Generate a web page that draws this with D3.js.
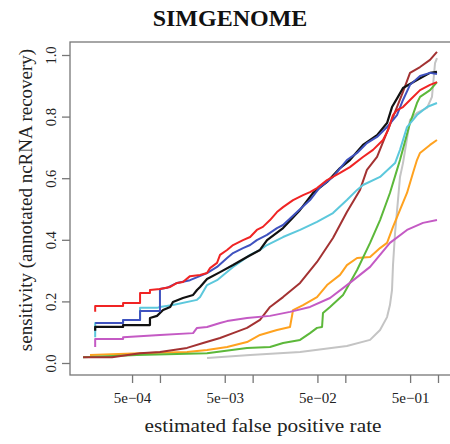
<!DOCTYPE html>
<html>
<head>
<meta charset="utf-8">
<script src="https://cdnjs.cloudflare.com/ajax/libs/d3/7.8.5/d3.min.js"></script>
<style>
    body { margin: 0; background: #fff; }
    text { font-family: "Liberation Serif", "Times New Roman", serif; }
</style>
</head>
<body>
<div id="chart"></div>
<script>

// sensitivity vs estimated false positive rate, one array per method ([fpr, sensitivity])

const redCurve = [
    [2.0e-4, 0.166], [2.0e-4, 0.185], [4.0e-4, 0.185], [4.0e-4, 0.195], [6.1e-4, 0.195], [6.1e-4, 0.227],
    [7.8e-4, 0.227], [7.8e-4, 0.237], [1.0e-3, 0.240], [1.29e-3, 0.247], [1.53e-3, 0.260], [1.77e-3, 0.263],
    [2.11e-3, 0.282], [2.71e-3, 0.286], [3.22e-3, 0.292], [3.47e-3, 0.308], [4.13e-3, 0.325], [4.45e-3, 0.351],
    [5.30e-3, 0.367], [6.15e-3, 0.383], [7.87e-3, 0.399], [9.4e-3, 0.409], [0.0111, 0.432], [0.0129, 0.442],
    [0.0154, 0.464], [0.0183, 0.490], [0.0213, 0.506], [0.0273, 0.529], [0.035, 0.545], [0.0416, 0.555],
    [0.0495, 0.568], [0.0635, 0.594], [0.0877, 0.617], [0.112, 0.636], [0.155, 0.669], [0.199, 0.692],
    [0.255, 0.724], [0.289, 0.756], [0.327, 0.805], [0.361, 0.821], [0.419, 0.831], [0.499, 0.854],
    [0.640, 0.886], [0.820, 0.903], [0.975, 0.912]
];

const blueCurve = [
    [2.0e-4, 0.130], [4.0e-4, 0.130], [4.0e-4, 0.140], [6.1e-4, 0.140], [6.1e-4, 0.169], [1.0e-3, 0.169],
    [1.0e-3, 0.240], [1.19e-3, 0.244], [1.53e-3, 0.260], [2.11e-3, 0.269], [3.22e-3, 0.292], [4.13e-3, 0.312],
    [5.30e-3, 0.341], [6.15e-3, 0.357], [7.87e-3, 0.373], [9.4e-3, 0.383], [0.0111, 0.399], [0.0143, 0.416],
    [0.0183, 0.438], [0.0213, 0.448], [0.0301, 0.490], [0.0416, 0.529], [0.0533, 0.571], [0.0736, 0.604],
    [0.104, 0.659], [0.134, 0.682], [0.171, 0.714], [0.220, 0.734], [0.282, 0.766], [0.361, 0.805],
    [0.419, 0.854], [0.499, 0.903], [0.640, 0.932], [0.820, 0.942], [0.975, 0.938]
];

const blackCurve = [
    [2.0e-4, 0.105], [2.0e-4, 0.117], [4.0e-4, 0.117], [4.0e-4, 0.123], [7.8e-4, 0.123], [7.8e-4, 0.146],
    [9.3e-4, 0.153], [1.08e-3, 0.172], [1.29e-3, 0.182], [1.38e-3, 0.198], [1.77e-3, 0.211], [2.28e-3, 0.221],
    [2.51e-3, 0.237], [2.71e-3, 0.247], [3.22e-3, 0.273], [4.45e-3, 0.295], [6.15e-3, 0.318], [8.7e-3, 0.344],
    [0.0120, 0.367], [0.0143, 0.399], [0.0213, 0.438], [0.0325, 0.497], [0.0449, 0.552], [0.0635, 0.588],
    [0.0877, 0.633], [0.112, 0.659], [0.155, 0.708], [0.220, 0.740], [0.282, 0.779], [0.319, 0.831],
    [0.370, 0.864], [0.419, 0.893], [0.593, 0.919], [0.820, 0.942], [0.975, 0.945]
];

const cyanCurve = [
    [2.0e-4, 0.084], [2.0e-4, 0.130], [4.0e-4, 0.130], [4.0e-4, 0.140], [6.1e-4, 0.140], [6.1e-4, 0.179],
    [9.3e-4, 0.179], [1.0e-3, 0.182], [1.38e-3, 0.188], [2.51e-3, 0.205], [2.71e-3, 0.214], [3.22e-3, 0.253],
    [4.13e-3, 0.269], [6.15e-3, 0.312], [9.4e-3, 0.351], [0.0120, 0.367], [0.0143, 0.383], [0.0213, 0.409],
    [0.0325, 0.432], [0.0495, 0.458], [0.0736, 0.487], [0.104, 0.529], [0.134, 0.562], [0.155, 0.578],
    [0.237, 0.604], [0.344, 0.649], [0.389, 0.692], [0.463, 0.766], [0.593, 0.805], [0.761, 0.831],
    [0.975, 0.844]
];

const magentaCurve = [
    [2.0e-4, 0.052], [2.0e-4, 0.078], [4.0e-4, 0.078], [4.0e-4, 0.084], [1.0e-3, 0.091], [2.28e-3, 0.097],
    [2.51e-3, 0.114], [3.22e-3, 0.117], [4.45e-3, 0.130], [5.30e-3, 0.136], [8.7e-3, 0.146], [0.0154, 0.153],
    [0.0253, 0.166], [0.0416, 0.182], [0.0684, 0.211], [0.112, 0.260], [0.185, 0.312], [0.303, 0.390],
    [0.463, 0.432], [0.689, 0.455], [0.975, 0.464]
];

const brownCurve = [
    [1.48e-4, 0.019], [3.04e-4, 0.019], [6.1e-4, 0.032], [1.0e-3, 0.036], [1.96e-3, 0.049], [2.92e-3, 0.065],
    [4.45e-3, 0.081], [6.15e-3, 0.097], [8.7e-3, 0.114], [0.0120, 0.140], [0.0154, 0.182], [0.0213, 0.214],
    [0.0325, 0.260], [0.0495, 0.328], [0.0736, 0.406], [0.104, 0.490], [0.144, 0.562], [0.171, 0.627],
    [0.220, 0.669], [0.303, 0.773], [0.419, 0.880], [0.499, 0.942], [0.640, 0.961], [0.820, 0.984],
    [0.975, 1.010]
];

const orangeCurve = [
    [1.76e-4, 0.026], [6.1e-4, 0.032], [1.96e-3, 0.036], [3.22e-3, 0.042], [5.30e-3, 0.052], [8.7e-3, 0.068],
    [0.0120, 0.091], [0.0183, 0.107], [0.0253, 0.117], [0.0273, 0.172], [0.0350, 0.188], [0.0495, 0.214],
    [0.0635, 0.253], [0.0877, 0.286], [0.104, 0.318], [0.134, 0.341], [0.185, 0.344], [0.237, 0.373],
    [0.282, 0.390], [0.327, 0.442], [0.389, 0.497], [0.463, 0.552], [0.537, 0.617], [0.593, 0.659],
    [0.640, 0.682], [0.820, 0.708], [0.975, 0.724]
];

const greenCurve = [
    [1.48e-4, 0.019], [5.66e-4, 0.026], [3.22e-3, 0.032], [8.7e-3, 0.049], [0.0154, 0.052], [0.0213, 0.065],
    [0.0325, 0.075], [0.0416, 0.097], [0.0495, 0.114], [0.0561, 0.117], [0.0574, 0.162], [0.0684, 0.182],
    [0.0945, 0.221], [0.134, 0.302], [0.185, 0.390], [0.237, 0.464], [0.303, 0.552], [0.361, 0.627],
    [0.389, 0.659], [0.499, 0.779], [0.593, 0.844], [0.640, 0.864], [0.820, 0.886], [0.975, 0.912]
];

const grayCurve = [
    [3.22e-3, 0.016], [9.4e-3, 0.026], [0.0325, 0.036], [0.104, 0.055], [0.185, 0.075], [0.237, 0.107],
    [0.282, 0.149], [0.303, 0.188], [0.319, 0.237], [0.327, 0.318], [0.344, 0.422], [0.370, 0.529],
    [0.389, 0.604], [0.419, 0.649], [0.499, 0.789], [0.593, 0.812], [0.761, 0.828], [0.861, 0.864],
    [0.929, 0.974], [0.975, 0.990]
];

const xTickValues = [5e-4, 1e-3, 5e-3, 1e-2, 5e-2, 1e-1, 5e-1, 1];
const xTickLabels = ['5e\u221204', '', '5e\u221203', '', '5e\u221202', '', '5e\u221201', ''];
const yTickValues = [0, 0.2, 0.4, 0.6, 0.8, 1.0];
const yTickLabels = ['0.0', '0.2', '0.4', '0.6', '0.8', '1.0'];


class RocChart {

    constructor(parentElement, series) {
        this.parentElement = parentElement;
        this.series = series;

        this.initVis();
    }

    initVis() {
        let vis = this;

        vis.margin = {top: 42, right: -2, bottom: 69, left: 70};
        vis.width = 450 - vis.margin.left - vis.margin.right;
        vis.height = 444 - vis.margin.top - vis.margin.bottom;

        vis.root = d3.select('#' + vis.parentElement).append('svg')
            .attr('width', 450)
            .attr('height', 444)
            .style('display', 'block');

        vis.svg = vis.root.append('g')
            .attr('transform', `translate(${vis.margin.left}, ${vis.margin.top})`);

        // log x, R style 4% padding round the data range
        vis.xScale = d3.scaleLog()
            .domain([1.07e-4, 1.416])
            .range([0, vis.width]);

        vis.yScale = d3.scaleLinear()
            .domain([0, 1])
            .range([321, 13]);

        vis.line = d3.line()
            .x(d => vis.xScale(d[0]))
            .y(d => vis.yScale(d[1]));

        // title and axis titles
        vis.root.append('text')
            .attr('x', 230)
            .attr('y', 26)
            .attr('text-anchor', 'middle')
            .style('font-size', '24px')
            .style('font-weight', 700)
            .style('fill', '#111')
            .text('SIMGENOME');

        vis.root.append('text')
            .attr('x', 263)
            .attr('y', 432)
            .attr('text-anchor', 'middle')
            .attr('textLength', 237)
            .attr('lengthAdjust', 'spacingAndGlyphs')
            .style('font-size', '19px')
            .style('fill', '#222')
            .text('estimated false positive rate');

        vis.root.append('text')
            .attr('transform', 'translate(32, 200) rotate(-90)')
            .attr('text-anchor', 'middle')
            .style('font-size', '19px')
            .style('fill', '#222')
            .text('sensitivity (annotated ncRNA recovery)');

        vis.updateVis();
    }

    updateVis() {
        let vis = this;

        // curves
        vis.svg.selectAll('.curve')
            .data(vis.series)
            .enter()
            .append('path')
            .attr('class', 'curve')
            .attr('d', d => vis.line(d.values))
            .attr('fill', 'none')
            .attr('stroke', d => d.color)
            .attr('stroke-width', d => d.width)
            .attr('stroke-linejoin', 'round');

        // axes
        let xAxisGroup = vis.svg.append('g')
            .attr('transform', `translate(0, ${vis.height})`)
            .call(d3.axisBottom(vis.xScale)
                .tickValues(xTickValues)
                .tickFormat((d, i) => xTickLabels[i])
                .tickSizeOuter(0)
                .tickSize(8));

        xAxisGroup.select('.domain').remove();
        xAxisGroup.selectAll('line').attr('stroke', '#777').attr('stroke-width', 1.3);
        xAxisGroup.selectAll('text')
            .attr('y', 28)
            .attr('dy', 0)
            .style('font-size', '15px')
            .style('font-family', '"Liberation Serif", serif')
            .style('fill', '#222');

        let yAxisGroup = vis.svg.append('g')
            .call(d3.axisLeft(vis.yScale)
                .tickValues(yTickValues)
                .tickFormat((d, i) => yTickLabels[i])
                .tickSizeOuter(0)
                .tickSize(8));

        yAxisGroup.select('.domain').remove();
        yAxisGroup.selectAll('line').attr('stroke', '#777').attr('stroke-width', 1.3);
        yAxisGroup.selectAll('text')
            .attr('transform', 'rotate(-90)')
            .attr('x', 0)
            .attr('y', -14.5)
            .attr('dy', 0)
            .attr('text-anchor', 'middle')
            .style('font-size', '14.5px')
            .style('font-family', '"Liberation Serif", serif')
            .style('fill', '#222');

        // plot box
        vis.svg.append('rect')
            .attr('x', 0)
            .attr('y', 0)
            .attr('width', vis.width)
            .attr('height', vis.height)
            .attr('fill', 'none')
            .attr('stroke', '#777')
            .attr('stroke-width', 1.3);
    }
}


let chart = new RocChart('chart', [
    {name: 'gray', color: '#c4c4c4', width: 2, values: grayCurve},
    {name: 'orange', color: '#ffa21f', width: 2, values: orangeCurve},
    {name: 'green', color: '#5cb83a', width: 2, values: greenCurve},
    {name: 'brown', color: '#a33232', width: 2, values: brownCurve},
    {name: 'magenta', color: '#c45ac4', width: 2, values: magentaCurve},
    {name: 'cyan', color: '#5cc8dc', width: 2, values: cyanCurve},
    {name: 'black', color: '#111111', width: 2.2, values: blackCurve},
    {name: 'blue', color: '#3f52bf', width: 2, values: blueCurve},
    {name: 'red', color: '#f02424', width: 2, values: redCurve}
]);

</script>
</body>
</html>
